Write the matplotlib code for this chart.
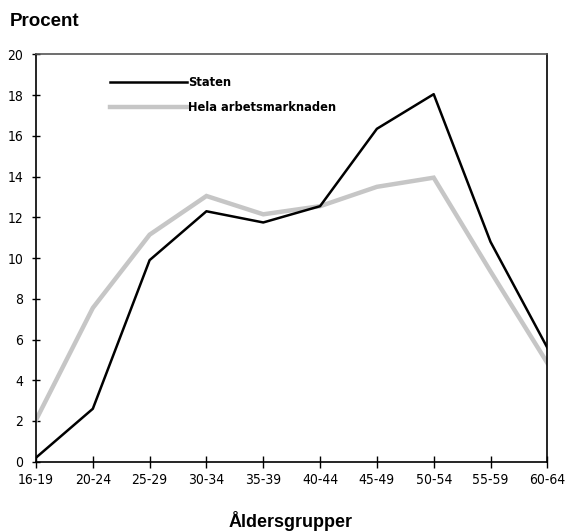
import matplotlib
matplotlib.use("Agg")
import matplotlib.pyplot as plt
from matplotlib import font_manager as fm

# ── Data ──────────────────────────────────────────────────────────────────────
age_groups = ["16-19", "20-24", "25-29", "30-34", "35-39",
              "40-44", "45-49", "50-54", "55-59", "60-64"]
staten = [0.2, 2.6, 9.9, 12.3, 11.75, 12.55, 16.35, 18.05, 10.8, 5.6]
hela   = [2.05, 7.55, 11.15, 13.05, 12.15, 12.55, 13.5, 13.95, 9.35, 4.85]
y_ticks = [0, 2, 4, 6, 8, 10, 12, 14, 16, 18, 20]

tick_font = fm.FontProperties(family="DejaVu Sans", stretch="condensed", size=10)
leg_font = fm.FontProperties(family="DejaVu Sans", stretch="condensed",
                             weight="bold", size=9.2)
WIDE = ["Liberation Sans", "DejaVu Sans"]

fig = plt.figure(figsize=(5.66, 5.32), dpi=100, facecolor="white")
ax = fig.add_axes([0.0636, 0.1321, 0.9034, 0.7655])

x = list(range(len(age_groups)))
ax.plot(x, hela, color="#c6c6c6", linewidth=3.2, label="Hela arbetsmarknaden",
        solid_joinstyle="miter", zorder=2)
ax.plot(x, staten, color="black", linewidth=1.8, label="Staten", zorder=3)

ax.set_xlim(0, len(age_groups) - 1)
ax.set_ylim(0, 20)
ax.set_xticks(x)
ax.set_xticklabels(age_groups, fontproperties=tick_font)
ax.set_yticks(y_ticks)
ax.set_yticklabels([str(v) for v in y_ticks], fontproperties=tick_font)
ax.tick_params(axis="x", direction="inout", length=8, width=1, pad=4)
ax.tick_params(axis="y", direction="inout", length=6, width=1, pad=6)
for sp in ax.spines.values():
    sp.set_linewidth(1.2)
ax.spines["top"].set_color("#555555")

handles, labels = ax.get_legend_handles_labels()
leg = ax.legend(handles[::-1], labels[::-1], loc="upper left",
                bbox_to_anchor=(0.122, 0.975), frameon=False,
                handlelength=6.0, handletextpad=0.1, labelspacing=0.95,
                prop=leg_font)

fig.text(0.018, 0.96, "Procent", fontfamily=WIDE, fontweight="bold",
         fontsize=13.5, ha="left", va="center")
fig.text(0.513, 0.0094, "Åldersgrupper", fontfamily=WIDE, fontweight="bold",
         fontsize=13, ha="center", va="baseline")

fig.savefig("out.png", dpi=100, facecolor="white")
